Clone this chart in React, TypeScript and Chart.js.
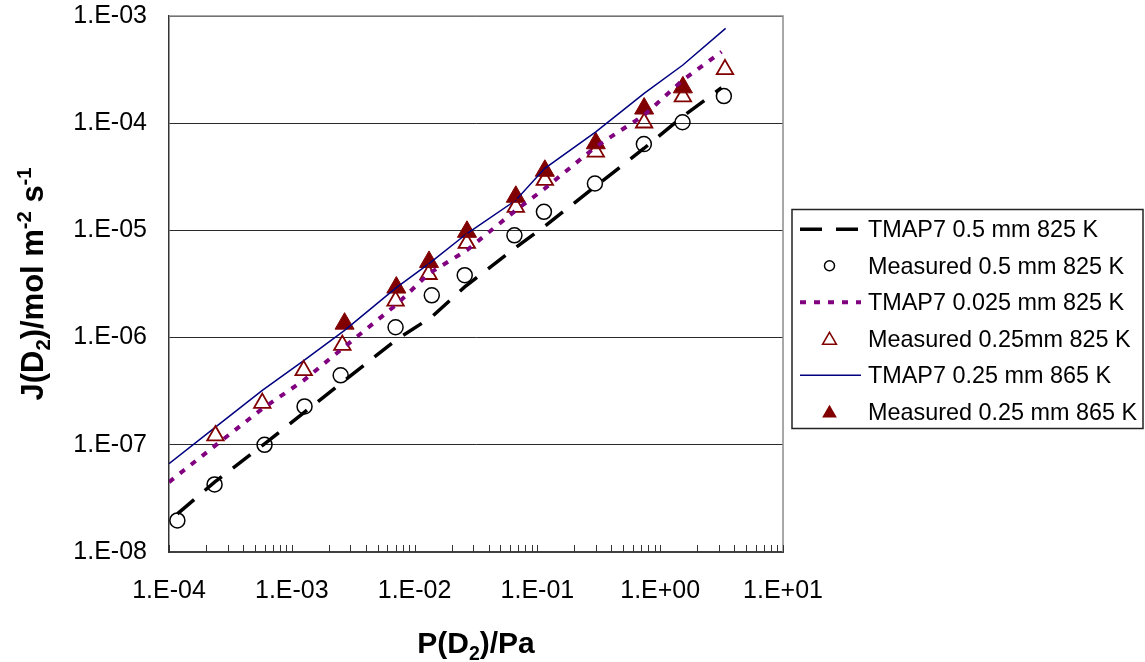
import React, { useEffect, useRef } from "react";
import { Chart, registerables } from "chart.js";

Chart.register(...registerables);

const FONT = "'Liberation Sans', Arial, Helvetica, sans-serif";

// ---- tick labels ----
const xDecades = [1e-4, 1e-3, 1e-2, 1e-1, 1, 10];
const xTickLabels = ["1.E-04", "1.E-03", "1.E-02", "1.E-01", "1.E+00", "1.E+01"];
const yDecades = [1e-8, 1e-7, 1e-6, 1e-5, 1e-4, 1e-3];
const yTickLabels = ["1.E-08", "1.E-07", "1.E-06", "1.E-05", "1.E-04", "1.E-03"];
const minorSteps = [1, 2, 3, 4, 5, 6, 7, 8, 9];

// ---- series ----
const seriesNames = [
  "TMAP7 0.5 mm 825 K",
  "Measured 0.5 mm 825 K",
  "TMAP7 0.025 mm 825 K",
  "Measured 0.25mm 825 K",
  "TMAP7 0.25 mm 865 K",
  "Measured 0.25 mm 865 K",
];

const tmap05P = [1.17e-4, 2.35e-4, 6.0e-4, 1.27e-3, 2.5e-3, 7.0e-3, 1.38e-2, 2.56e-2, 6.5e-2, 0.113, 0.294, 0.736, 1.52, 3.16];
const tmap05J = [2.27e-8, 4.49e-8, 1.02e-7, 2.02e-7, 3.72e-7, 9.44e-7, 1.56e-6, 2.97e-6, 6.78e-6, 1.08e-5, 2.55e-5, 5.81e-5, 1.15e-4, 2.14e-4];

const meas05P = [1.17e-4, 2.35e-4, 6.0e-4, 1.27e-3, 2.5e-3, 7.0e-3, 1.38e-2, 2.56e-2, 6.5e-2, 0.113, 0.294, 0.736, 1.52, 3.30];
const meas05J = [1.97e-8, 4.27e-8, 1.0e-7, 2.28e-7, 4.45e-7, 1.25e-6, 2.48e-6, 3.82e-6, 9.0e-6, 1.49e-5, 2.74e-5, 6.38e-5, 1.02e-4, 1.79e-4];

const tmap0025P = [1e-4, 2.39e-4, 5.75e-4, 1.25e-3, 2.58e-3, 7.0e-3, 1.31e-2, 2.66e-2, 6.67e-2, 0.115, 0.299, 0.74, 1.53, 3.16];
const tmap0025J = [4.49e-8, 9.87e-8, 2.17e-7, 3.99e-7, 7.9e-7, 2.0e-6, 3.96e-6, 6.53e-6, 1.54e-5, 2.46e-5, 6.03e-5, 1.19e-4, 2.53e-4, 4.64e-4];

const meas025P = [2.39e-4, 5.75e-4, 1.25e-3, 2.58e-3, 7.0e-3, 1.30e-2, 2.66e-2, 6.67e-2, 0.115, 0.299, 0.74, 1.53, 3.37];
const meas025J = [1.22e-7, 2.45e-7, 4.95e-7, 8.5e-7, 2.2e-6, 3.9e-6, 7.6e-6, 1.65e-5, 2.94e-5, 5.4e-5, 1.01e-4, 1.77e-4, 3.18e-4];

const tmap865P = [1e-4, 2.39e-4, 5.75e-4, 1.25e-3, 2.69e-3, 7.1e-3, 1.31e-2, 2.67e-2, 6.67e-2, 0.115, 0.299, 0.74, 1.53, 3.41];
const tmap865J = [6.66e-8, 1.46e-7, 3.22e-7, 6.1e-7, 1.17e-6, 2.93e-6, 4.9e-6, 9.35e-6, 1.91e-5, 3.79e-5, 8.3e-5, 1.90e-4, 3.49e-4, 7.67e-4];

const meas865P = [2.69e-3, 7.1e-3, 1.31e-2, 2.67e-2, 6.67e-2, 0.115, 0.299, 0.74, 1.53];
const meas865J = [1.35e-6, 2.93e-6, 5.08e-6, 9.7e-6, 2.06e-5, 3.6e-5, 6.5e-5, 1.37e-4, 2.16e-4];

const pts = (xs: number[], ys: number[]) => xs.map((x, i) => ({ x, y: ys[i] }));

const labelFor = (v: number, decs: number[], labels: string[]) => {
  const i = decs.findIndex((d) => Math.abs(Math.log10(v) - Math.log10(d)) < 1e-6);
  return i >= 0 ? labels[i] : "";
};

type Seg = { t: string; k?: "sub" | "sup" };

function richWidth(ctx: CanvasRenderingContext2D, segs: Seg[], size: number) {
  let w = 0;
  for (const s of segs) {
    const fs = s.k ? size * 0.65 : size;
    ctx.font = `bold ${fs}px ${FONT}`;
    w += ctx.measureText(s.t).width;
  }
  return w;
}

function drawRich(ctx: CanvasRenderingContext2D, segs: Seg[], cx: number, baseY: number, size: number) {
  const total = richWidth(ctx, segs, size);
  let x = cx - total / 2;
  ctx.textBaseline = "alphabetic";
  ctx.textAlign = "left";
  ctx.fillStyle = "#000";
  for (const s of segs) {
    const fs = s.k ? size * 0.65 : size;
    ctx.font = `bold ${fs}px ${FONT}`;
    const dy = s.k === "sub" ? size * 0.24 : s.k === "sup" ? -size * 0.4 : 0;
    ctx.fillText(s.t, x, baseY + dy);
    x += ctx.measureText(s.t).width;
  }
}

function tri(ctx: CanvasRenderingContext2D, x: number, y: number, r: number) {
  ctx.beginPath();
  ctx.moveTo(x, y - r);
  ctx.lineTo(x + r * 0.866, y + r / 2);
  ctx.lineTo(x - r * 0.866, y + r / 2);
  ctx.closePath();
}

const decorPlugin = {
  id: "decor",
  afterDatasetsDraw(chart: any) {
    const ctx: CanvasRenderingContext2D = chart.ctx;
    const { left, right, top, bottom } = chart.chartArea;
    const xs = chart.scales.x;
    ctx.save();
    // plot area border (top / right)
    ctx.strokeStyle = "#8c8c8c";
    ctx.lineWidth = 1.5;
    ctx.beginPath();
    ctx.moveTo(left, top);
    ctx.lineTo(right, top);
    ctx.lineTo(right, bottom);
    ctx.stroke();
    // inside tick marks on the x axis
    ctx.strokeStyle = "#333";
    ctx.lineWidth = 1;
    ctx.beginPath();
    for (const t of xs.ticks) {
      const px = Math.round(xs.getPixelForValue(t.value)) + 0.5;
      ctx.moveTo(px, bottom);
      ctx.lineTo(px, bottom - 7);
    }
    ctx.stroke();
    ctx.restore();
  },
  afterDraw(chart: any) {
    const ctx: CanvasRenderingContext2D = chart.ctx;
    const { left, right, top, bottom } = chart.chartArea;
    ctx.save();
    // axis titles
    drawRich(ctx, [{ t: "P(D" }, { t: "2", k: "sub" }, { t: ")/Pa" }], (left + right) / 2, 653, 30);
    ctx.save();
    ctx.translate(43, (top + bottom) / 2);
    ctx.rotate(-Math.PI / 2);
    drawRich(
      ctx,
      [{ t: "J(D" }, { t: "2", k: "sub" }, { t: ")/mol m" }, { t: "-2", k: "sup" }, { t: " s" }, { t: "-1", k: "sup" }],
      0,
      0,
      31
    );
    ctx.restore();

    // legend
    const lx = 792, ly = 209.5, lw = 351, lh = 219;
    ctx.fillStyle = "#fff";
    ctx.fillRect(lx, ly, lw, lh);
    ctx.strokeStyle = "#222";
    ctx.lineWidth = 1.5;
    ctx.strokeRect(lx, ly, lw, lh);
    const base0 = 237.3, step = 36.5;
    const sx1 = 800, sx2 = 861, mx = 829.5;
    ctx.font = `23.4px ${FONT}`;
    ctx.textBaseline = "alphabetic";
    ctx.textAlign = "left";
    seriesNames.forEach((name, i) => {
      const b = base0 + i * step;
      const cy = b - 8;
      ctx.fillStyle = "#000";
      ctx.fillText(name, 868, b);
      ctx.save();
      if (i === 0) {
        ctx.strokeStyle = "#000";
        ctx.lineWidth = 3.5;
        ctx.setLineDash([22, 14]);
        ctx.beginPath(); ctx.moveTo(sx1, cy); ctx.lineTo(sx2, cy); ctx.stroke();
      } else if (i === 2) {
        ctx.strokeStyle = "#800080";
        ctx.lineWidth = 4;
        ctx.setLineDash([6, 8]);
        ctx.beginPath(); ctx.moveTo(sx1, cy); ctx.lineTo(sx2, cy); ctx.stroke();
      } else if (i === 4) {
        ctx.strokeStyle = "#000080";
        ctx.lineWidth = 1.5;
        ctx.beginPath(); ctx.moveTo(sx1, cy); ctx.lineTo(sx2, cy); ctx.stroke();
      } else if (i === 1) {
        ctx.strokeStyle = "#000";
        ctx.lineWidth = 1.5;
        ctx.beginPath(); ctx.arc(mx, cy, 5, 0, Math.PI * 2); ctx.stroke();
      } else if (i === 3) {
        ctx.strokeStyle = "#800000";
        ctx.lineWidth = 1.5;
        tri(ctx, mx, cy + 1.5, 8);
        ctx.stroke();
      } else if (i === 5) {
        ctx.fillStyle = "#800000";
        tri(ctx, mx, cy + 1.5, 8.5);
        ctx.fill();
      }
      ctx.restore();
    });
    ctx.restore();
  },
};

export default function App() {
  const ref = useRef<HTMLCanvasElement | null>(null);

  useEffect(() => {
    document.body.style.margin = "0";
    const canvas = ref.current;
    if (!canvas) return;
    const tickFont = { family: FONT, size: 25 };
    const chart = new Chart(canvas, {
      type: "scatter",
      data: {
        datasets: [
          {
            label: seriesNames[0],
            data: pts(tmap05P, tmap05J),
            showLine: true,
            borderColor: "#000",
            borderWidth: 3.5,
            borderDash: [22, 14],
            pointRadius: 0,
            pointHoverRadius: 0,
            fill: false,
          },
          {
            label: seriesNames[1],
            data: pts(meas05P, meas05J),
            showLine: false,
            pointStyle: "circle",
            pointRadius: 7.5,
            pointBorderWidth: 1.5,
            borderColor: "#000",
            backgroundColor: "rgba(0,0,0,0)",
          },
          {
            label: seriesNames[2],
            data: pts(tmap0025P, tmap0025J),
            showLine: true,
            borderColor: "#800080",
            borderWidth: 4,
            borderDash: [6, 8],
            pointRadius: 0,
            pointHoverRadius: 0,
            fill: false,
          },
          {
            label: seriesNames[3],
            data: pts(meas025P, meas025J),
            showLine: false,
            pointStyle: "triangle",
            pointRadius: 9.5,
            pointBorderWidth: 1.8,
            borderColor: "#800000",
            backgroundColor: "rgba(0,0,0,0)",
          },
          {
            label: seriesNames[4],
            data: pts(tmap865P, tmap865J),
            showLine: true,
            borderColor: "#000080",
            borderWidth: 1.5,
            pointRadius: 0,
            pointHoverRadius: 0,
            fill: false,
          },
          {
            label: seriesNames[5],
            data: pts(meas865P, meas865J),
            showLine: false,
            pointStyle: "triangle",
            pointRadius: 11,
            pointBorderWidth: 1,
            borderColor: "#800000",
            backgroundColor: "#800000",
          },
        ],
      },
      options: {
        animation: false,
        responsive: false,
        maintainAspectRatio: false,
        devicePixelRatio: 1,
        layout: { padding: { left: 0, top: 16, right: 362, bottom: 0 } },
        plugins: {
          legend: { display: false },
          tooltip: { enabled: false },
          title: { display: false },
        },
        scales: {
          x: {
            type: "logarithmic",
            position: "bottom",
            min: 1e-4,
            max: 10,
            afterBuildTicks: (s: any) => {
              const t: any[] = [];
              for (let d = 0; d < xDecades.length; d++) {
                for (const m of minorSteps) {
                  if (d === xDecades.length - 1 && m > 1) continue;
                  t.push({ value: m * xDecades[d] });
                }
              }
              s.ticks = t;
            },
            afterFit: (s: any) => {
              s.height = 110;
              s.paddingLeft = 0;
              s.paddingRight = 0;
            },
            grid: { display: false, drawTicks: false },
            border: { display: true, color: "#404040", width: 2 },
            ticks: {
              autoSkip: false,
              maxRotation: 0,
              minRotation: 0,
              padding: 24,
              color: "#000",
              font: tickFont,
              callback: (v: any) => labelFor(Number(v), xDecades, xTickLabels),
            },
          },
          y: {
            type: "logarithmic",
            position: "left",
            min: 1e-8,
            max: 1e-3,
            afterBuildTicks: (s: any) => {
              s.ticks = yDecades.map((v) => ({ value: v }));
            },
            afterFit: (s: any) => {
              s.width = 169;
              s.paddingTop = 0;
              s.paddingBottom = 0;
            },
            grid: { color: "#2a2a2a", lineWidth: 1, drawTicks: false },
            border: { display: true, color: "#333", width: 1.5 },
            ticks: {
              autoSkip: false,
              padding: 22,
              color: "#000",
              font: tickFont,
              callback: (v: any) => labelFor(Number(v), yDecades, yTickLabels),
            },
          },
        },
      },
      plugins: [decorPlugin],
    } as any);
    return () => chart.destroy();
  }, []);

  return (
    <div style={{ width: 1145, height: 662, background: "#fff" }}>
      <canvas ref={ref} width={1145} height={662} style={{ display: "block" }} />
    </div>
  );
}
